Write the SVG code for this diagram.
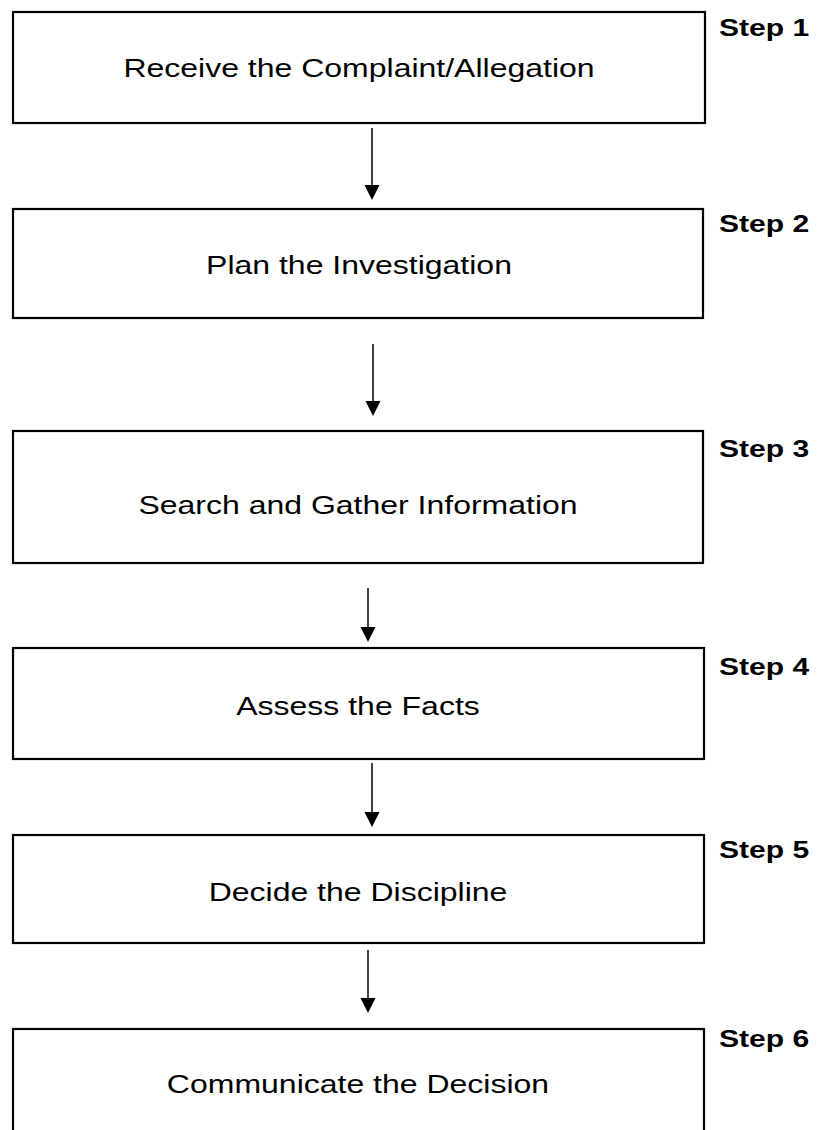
<svg xmlns="http://www.w3.org/2000/svg" width="818" height="1130" viewBox="0 0 818 1130">
  <defs>
    <style>
      .box { fill: #fff; stroke: #000; stroke-width: 2.2; }
      .lbl { font-family: "Liberation Sans", Arial, sans-serif; font-size: 25px; fill: #000; text-anchor: middle; }
      .step { font-family: "Liberation Sans", Arial, sans-serif; font-size: 23.5px; font-weight: bold; fill: #000; }
      .conn { stroke: #000; stroke-width: 1.5; fill: none; }
      .head { fill: #000; }
    </style>
  </defs>
  <rect width="818" height="1130" fill="#fff"/>

  <g id="connectors">
    <line class="conn" x1="372" y1="128" x2="372" y2="186"/>
    <path class="head" d="M364.5,185 L379.5,185 L372,200 Z"/>
    <line class="conn" x1="373" y1="344" x2="373" y2="402"/>
    <path class="head" d="M365.5,401 L380.5,401 L373,416 Z"/>
    <line class="conn" x1="368" y1="588" x2="368" y2="628"/>
    <path class="head" d="M360.5,627 L375.5,627 L368,642 Z"/>
    <line class="conn" x1="372" y1="763" x2="372" y2="813"/>
    <path class="head" d="M364.5,812 L379.5,812 L372,827 Z"/>
    <line class="conn" x1="368" y1="950" x2="368" y2="999"/>
    <path class="head" d="M360.5,998 L375.5,998 L368,1013 Z"/>
  </g>

  <g id="step1">
    <rect class="box" x="13" y="12" width="692" height="111"/>
    <text class="lbl" transform="translate(359,77) scale(1.28,1)">Receive the Complaint/Allegation</text>
    <text class="step" transform="translate(719,36) scale(1.28,1)">Step 1</text>
  </g>
  <g id="step2">
    <rect class="box" x="13" y="209" width="690" height="109"/>
    <text class="lbl" transform="translate(359,274) scale(1.28,1)">Plan the Investigation</text>
    <text class="step" transform="translate(719,232) scale(1.28,1)">Step 2</text>
  </g>
  <g id="step3">
    <rect class="box" x="13" y="431" width="690" height="132"/>
    <text class="lbl" transform="translate(358,514) scale(1.28,1)">Search and Gather Information</text>
    <text class="step" transform="translate(719,457) scale(1.28,1)">Step 3</text>
  </g>
  <g id="step4">
    <rect class="box" x="13" y="648" width="691" height="111"/>
    <text class="lbl" transform="translate(358,715) scale(1.28,1)">Assess the Facts</text>
    <text class="step" transform="translate(719,675) scale(1.28,1)">Step 4</text>
  </g>
  <g id="step5">
    <rect class="box" x="13" y="835" width="691" height="108"/>
    <text class="lbl" transform="translate(358,901) scale(1.28,1)">Decide the Discipline</text>
    <text class="step" transform="translate(719,858) scale(1.28,1)">Step 5</text>
  </g>
  <g id="step6">
    <rect class="box" x="13" y="1029" width="691" height="120"/>
    <text class="lbl" transform="translate(358,1093) scale(1.28,1)">Communicate the Decision</text>
    <text class="step" transform="translate(719,1047) scale(1.28,1)">Step 6</text>
  </g>
</svg>
